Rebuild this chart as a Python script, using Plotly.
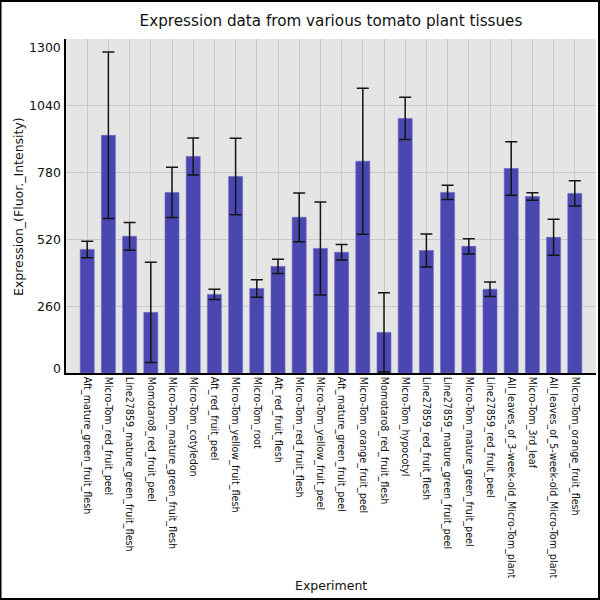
import plotly.graph_objects as go

categories = [
    "Aft_mature_green_fruit_flesh",
    "Micro-Tom_red_fruit_peel",
    "Line27859_mature_green_fruit_flesh",
    "Momotaro8_red_fruit_peel",
    "Micro-Tom_mature_green_fruit_flesh",
    "Micro-Tom_cotyledon",
    "Aft_red_fruit_peel",
    "Micro-Tom_yellow_fruit_flesh",
    "Micro-Tom_root",
    "Aft_red_fruit_flesh",
    "Micro-Tom_red_fruit_flesh",
    "Micro-Tom_yellow_fruit_peel",
    "Aft_mature_green_fruit_peel",
    "Micro-Tom_orange_fruit_peel",
    "Momotaro8_red_fruit_flesh",
    "Micro-Tom_hypocotyl",
    "Line27859_red_fruit_flesh",
    "Line27859_mature_green_fruit_peel",
    "Micro-Tom_mature_green_fruit_peel",
    "Line27859_red_fruit_peel",
    "All_leaves_of_3-week-old_Micro-Tom_plant",
    "Micro-Tom_3rd_leaf",
    "All_leaves_of_5-week-old_Micro-Tom_plant",
    "Micro-Tom_orange_fruit_flesh",
]

expression = [481, 925, 532, 236, 703, 843, 306, 765, 329, 415, 606, 485,
              470, 824, 158, 991, 477, 703, 493, 326, 796, 687, 528, 699]

error = [32, 324, 54, 195, 98, 72, 20, 149, 34, 28, 95, 181,
         30, 284, 154, 82, 64, 28, 30, 28, 104, 15, 70, 49]

y_ticks = [0, 260, 520, 780, 1040, 1300]
y_tick_text = ["0", "260", "520", "780", "1040", "1300"]

FONT = "DejaVu Sans"
TXT = "#111"
fig = go.Figure()
fig.add_trace(go.Bar(
    x=list(range(len(categories))),
    y=expression,
    marker=dict(color="rgb(75,71,177)", line=dict(color="rgb(105,101,195)", width=0.6)),
    error_y=dict(type="data", array=error, visible=True, color="rgb(20,20,20)",
                 thickness=1.5, width=6),
    width=0.66,
))

annotations = []
# y tick labels as annotations (end labels nudged inward like the reference)
for v, t in zip(y_ticks, y_tick_text):
    shift = 0
    if v == 0:
        shift = 5
    elif v == 1300:
        shift = -8
    annotations.append(dict(
        x=0, xref="paper", y=v, yref="y", text=t, showarrow=False,
        xanchor="right", yanchor="middle", xshift=-3, yshift=shift,
        font=dict(family=FONT, size=12.5, color=TXT),
    ))
# axis titles
annotations.append(dict(
    x=0.5, xref="paper", y=-0.635, yref="paper", text="Experiment",
    showarrow=False, xanchor="center", yanchor="middle",
    font=dict(family=FONT, size=12.5, color=TXT)))
annotations.append(dict(
    x=-0.0906, xref="paper", y=0.5, yref="paper", text="Expression_(Fluor._Intensity)",
    showarrow=False, xanchor="center", yanchor="middle", textangle=-90,
    font=dict(family=FONT, size=12.5, color=TXT)))

fig.update_layout(
    width=600, height=600,
    margin=dict(l=66, r=4, t=39, b=227, autoexpand=False),
    paper_bgcolor="white",
    plot_bgcolor="#e5e5e5",
    title=dict(text="Expression data from various tomato plant tissues",
               x=0.5, xref="paper", xanchor="center", y=0.966, yanchor="middle",
               font=dict(family=FONT, size=15.2, color=TXT)),
    showlegend=False,
    bargap=0.34,
    annotations=annotations,
    shapes=[dict(type="rect", xref="paper", yref="paper",
                 x0=-0.1236, x1=1.0057, y0=-0.6766, y1=1.1140,
                 line=dict(color="black", width=2), fillcolor="rgba(0,0,0,0)",
                 layer="above")],
)

fig.update_xaxes(
    automargin=False,
    range=[-1, len(categories)],
    tickmode="array",
    tickvals=list(range(len(categories))),
    ticktext=categories,
    tickangle=90,
    tickfont=dict(family=FONT, size=9.6, color=TXT),
    showgrid=True, gridcolor="#c9c9c9", gridwidth=1,
    showline=True, linecolor="black", linewidth=1.5,
    ticks="", ticklen=0,
    zeroline=False,
)
fig.update_yaxes(
    automargin=False,
    range=[0, 1300],
    tickmode="array",
    tickvals=y_ticks,
    showticklabels=False,
    showgrid=True, gridcolor="#c9c9c9", gridwidth=1,
    showline=True, linecolor="black", linewidth=1.5,
    zeroline=False,
)

fig.write_html("out.html",
               config={"displayModeBar": False},
               post_script="document.body.style.margin='0';document.body.style.overflow='hidden';")
